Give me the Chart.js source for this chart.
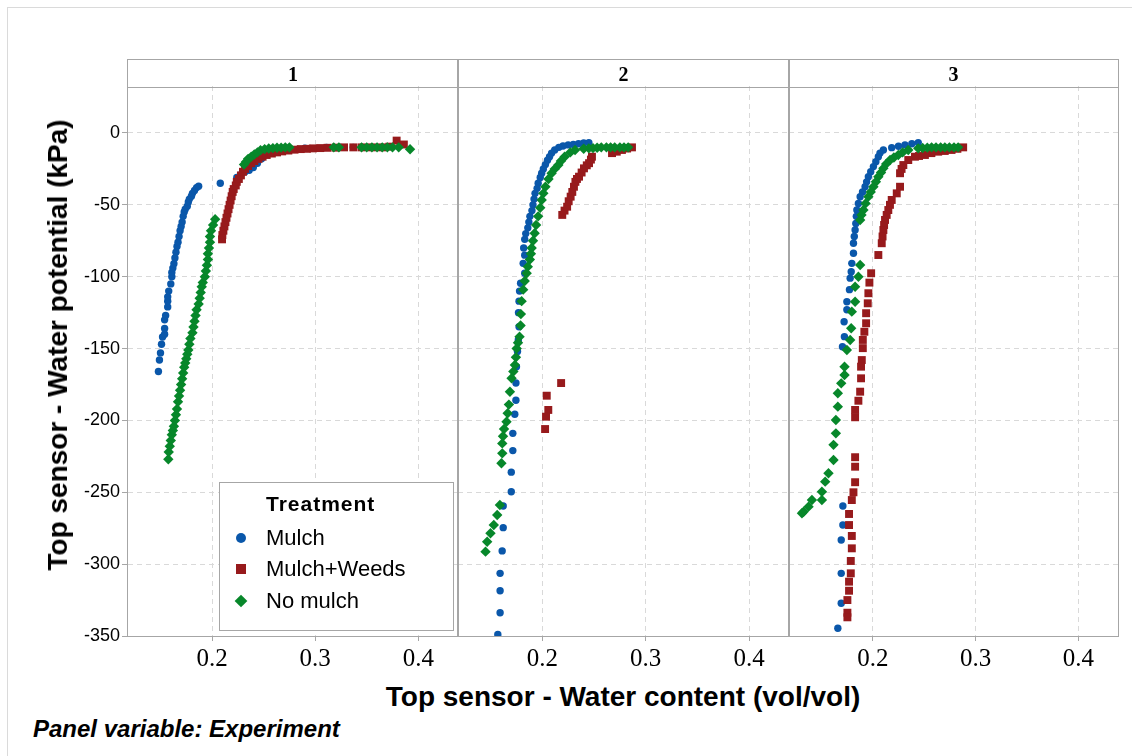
<!DOCTYPE html>
<html>
<head>
<meta charset="utf-8">
<script src="https://cdn.jsdelivr.net/npm/chart.js@4.4.0/dist/chart.umd.min.js"></script>
<style>
  body { margin: 0; background: #fff; font-family: "Liberation Sans", Arial, sans-serif; }
  #fig { position: relative; width: 1132px; height: 756px; overflow: hidden; background: #fff; }
  #outer { position: absolute; left: 7px; top: 7px; width: 1140px; height: 760px; border: 1px solid #dadada; }
  canvas { position: absolute; }
  .panel { position: absolute; top: 59px; height: 578px; border: 1.5px solid #a6a6a6; box-sizing: border-box; pointer-events: none; }
  .strip { position: absolute; left: 0; right: 0; top: 0; height: 27px; border-bottom: 1.5px solid #a6a6a6;
           font-family: "Liberation Serif", "Times New Roman", serif; font-weight: bold; font-size: 20px;
           text-align: center; line-height: 28px; color: #000; }
  #ytitle { position: absolute; left: 58px; top: 345px; transform: translate(-50%, -50%) rotate(-90deg);
            white-space: nowrap; font-weight: bold; font-size: 28px; color: #000; }
  #xtitle { position: absolute; left: 623px; top: 697px; transform: translate(-50%, -50%);
            white-space: nowrap; font-weight: bold; font-size: 28px; color: #000; }
  #note { position: absolute; left: 33px; top: 729px; transform: translateY(-50%);
          white-space: nowrap; font-weight: bold; font-style: italic; font-size: 24px; color: #000; }
  #legend { position: absolute; left: 219px; top: 482px; width: 235px; height: 149px; box-sizing: border-box;
            border: 1.5px solid #a6a6a6; background: #fff; }
  #legend .ttl { position: absolute; left: 46px; top: 21px; transform: translateY(-50%);
                 font-weight: bold; font-size: 21px; letter-spacing: 1px; }
  #legend .row { position: absolute; left: 46px; transform: translateY(-50%); font-size: 22px; white-space: nowrap; }
  #legend .mk { position: absolute; left: 21px; transform: translate(-50%, -50%); }
</style>
</head>
<body>
<div id="fig">
  <div id="outer"></div>
  <canvas id="c1" width="458" height="594" style="left:0;top:86px"></canvas>
  <canvas id="c2" width="331" height="594" style="left:458px;top:86px"></canvas>
  <canvas id="c3" width="329" height="594" style="left:789px;top:86px"></canvas>
  <div id="panels"></div>
  <div id="legend"></div>
  <div id="ytitle">Top sensor - Water potential (kPa)</div>
  <div id="xtitle">Top sensor - Water content (vol/vol)</div>
  <div id="note">Panel variable: Experiment</div>
</div>
<script>
// panel labels (Experiment) and axis settings
const panelLabels = ['1', '2', '3'];
const xTicks = [0.2, 0.3, 0.4];
const yTicks = [0, -50, -100, -150, -200, -250, -300, -350];
const treatments = ['Mulch', 'Mulch+Weeds', 'No mulch'];

// [water content, water potential]
// Experiment 1
const mulch1 = [[0.148,-166],[0.149,-158],[0.150,-153],[0.151,-147],[0.152,-142],[0.154,-140],[0.154,-136],[0.154,-130],
  [0.155,-127],[0.157,-121],[0.157,-117],[0.157,-114],[0.158,-110],[0.160,-105],[0.161,-100],[0.161,-97],[0.162,-94],
  [0.163,-91],[0.164,-87],[0.165,-83],[0.166,-79],[0.167,-76],[0.168,-72],[0.169,-68],[0.170,-65],[0.171,-62],
  [0.172,-58],[0.173,-55],[0.174,-53],[0.176,-51],[0.177,-48],[0.178,-46],[0.180,-44],[0.181,-42],[0.183,-40],
  [0.185,-38],[0.187,-37],[0.208,-35],[0.224,-31],[0.228,-29],[0.232,-27],[0.236,-26],[0.240,-24],[0.244,-21],
  [0.248,-18],[0.252,-15],[0.258,-13],[0.265,-12],[0.275,-11],[0.290,-10.5],[0.311,-10],[0.325,-10],[0.337,-10],
  [0.350,-10],[0.360,-10]];
const weeds1 = [[0.2097,-74],[0.210,-71],[0.211,-68],[0.212,-65],[0.213,-62],[0.214,-59],[0.215,-56],[0.216,-53],
  [0.217,-50],[0.218,-47],[0.219,-44],[0.220,-41],[0.221,-39],[0.223,-36.5],[0.224,-34],[0.226,-32],[0.228,-29.5],
  [0.230,-27],[0.232,-25],[0.235,-23],[0.238,-21],[0.241,-19.5],[0.245,-18],[0.249,-16.5],[0.253,-15.3],[0.258,-14.3],
  [0.263,-13.5],[0.268,-12.8],[0.274,-12.2],[0.280,-11.6],[0.286,-11.2],[0.292,-11],[0.298,-10.7],[0.305,-10.5],
  [0.312,-10.3],[0.320,-10.2],[0.328,-10],[0.337,-10],[0.345,-10],[0.355,-10],[0.365,-10],[0.372,-9.5],[0.379,-5.3],
  [0.386,-8]];
const nomulch1 = [[0.1576,-227],[0.158,-222],[0.159,-218],[0.160,-214],[0.161,-210],[0.162,-207],[0.163,-204],
  [0.164,-200],[0.165,-196],[0.166,-192],[0.167,-187],[0.168,-183],[0.169,-179],[0.170,-175],[0.171,-171],[0.172,-167],
  [0.173,-163],[0.174,-160],[0.175,-157],[0.176,-154],[0.177,-151],[0.178,-147],[0.179,-143],[0.181,-139],[0.182,-135],
  [0.183,-131],[0.184,-127],[0.185,-123],[0.187,-119],[0.188,-115],[0.189,-111],[0.190,-107],[0.191,-104],[0.193,-100],
  [0.194,-96],[0.195,-92],[0.196,-88],[0.196,-84],[0.197,-80],[0.198,-76],[0.198,-72],[0.199,-68],[0.201,-64],
  [0.203,-60],[0.231,-22],[0.233,-20],[0.235,-18],[0.238,-16.5],[0.241,-15],[0.244,-13.5],[0.247,-12],[0.251,-11.2],
  [0.255,-10.8],[0.259,-10.5],[0.263,-10.3],[0.267,-10.2],[0.271,-10],[0.275,-10],[0.318,-10],[0.323,-10],[0.345,-10],
  [0.350,-10],[0.355,-10],[0.360,-10],[0.365,-10],[0.370,-10],[0.375,-10],[0.381,-10],[0.392,-11.3]];

// Experiment 2
const mulch2 = [[0.245,-6.7],[0.240,-7],[0.235,-7.5],[0.230,-8],[0.225,-8.3],[0.220,-9],[0.216,-10],[0.212,-11.8],
  [0.209,-14],[0.207,-16.5],[0.205,-19],[0.203,-22],[0.201,-25],[0.1994,-28],[0.198,-31],[0.196,-35],[0.195,-38.5],
  [0.193,-42],[0.192,-46],[0.191,-50],[0.190,-54],[0.188,-58],[0.187,-62],[0.186,-66],[0.184,-70],[0.183,-74],
  [0.182,-80],[0.183,-85],[0.1815,-90.7],[0.183,-97.6],[0.179,-104.6],[0.178,-110],[0.1775,-117],[0.177,-125],
  [0.1775,-134.8],[0.1768,-144],[0.176,-152],[0.175,-162.6],[0.1745,-174],[0.1745,-186],[0.1734,-195.7],
  [0.1715,-209],[0.1715,-221],[0.170,-236],[0.170,-249.6],[0.1622,-259.5],[0.1622,-274.6],[0.1612,-290.8],
  [0.1592,-306.4],[0.1592,-318.5],[0.1592,-333.8],[0.157,-349]];
const weeds2 = [[0.2193,-57],[0.2215,-54],[0.224,-51.3],[0.2255,-47.5],[0.2274,-44.3],[0.229,-41],[0.2306,-37.4],
  [0.232,-34],[0.2335,-32],[0.2355,-30.4],[0.238,-27.5],[0.2403,-24.6],[0.243,-22.5],[0.2452,-21],[0.247,-18.5],
  [0.248,-16.5],[0.2674,-14],[0.272,-13],[0.277,-11.8],[0.282,-10.8],[0.2867,-10],
  [0.2182,-174],[0.2043,-182.8],[0.2058,-192.7],[0.2036,-197.4],[0.2027,-206]];
const nomulch2 = [[0.283,-10],[0.279,-10],[0.275,-10],[0.270,-10],[0.266,-10],[0.262,-10],[0.257,-10],[0.253,-10.3],
  [0.249,-10.5],[0.245,-10.7],[0.240,-11],[0.2317,-11.8],[0.227,-13.5],[0.2216,-16.5],[0.218,-19.5],[0.2155,-22.3],
  [0.212,-25],[0.209,-28],[0.206,-32],[0.203,-37.4],[0.201,-42],[0.1994,-46.6],[0.198,-52],[0.196,-58],[0.194,-64],
  [0.1926,-69.8],[0.191,-75],[0.1897,-80],[0.189,-84],[0.188,-88],[0.186,-93],[0.1849,-97.6],[0.183,-103],
  [0.1815,-109],[0.180,-117],[0.1793,-126],[0.179,-134],[0.178,-141.7],[0.1765,-146],[0.1752,-150],[0.1745,-156],
  [0.1735,-161.4],[0.172,-166],[0.1703,-170.7],[0.1687,-180],[0.1677,-189],[0.1665,-195],[0.1654,-200.9],
  [0.163,-206],[0.162,-211],[0.1613,-216],[0.1613,-222.9],[0.1605,-229.8],[0.159,-258.8],[0.1564,-265.8],
  [0.1531,-272.8],[0.1499,-278.5],[0.1467,-284.4],[0.1451,-291.3]];

// Experiment 3
const mulch3 = [[0.2442,-6.7],[0.238,-7.5],[0.2313,-8.3],[0.225,-9.2],[0.2184,-10.2],[0.2103,-11.8],[0.207,-14],
  [0.2054,-16.5],[0.203,-20],[0.2006,-23.4],[0.198,-27],[0.1957,-30.4],[0.194,-34],[0.1925,-37.4],[0.190,-41],
  [0.1877,-44.3],[0.186,-49],[0.1845,-53.6],[0.184,-58],[0.1835,-63],[0.1828,-67.5],[0.182,-72],[0.1812,-76.7],
  [0.1812,-83.7],[0.1796,-90.7],[0.179,-96.5],[0.178,-101],[0.1773,-109],[0.1748,-117.4],[0.1748,-123],
  [0.1721,-131.3],[0.1724,-141.7],[0.1705,-148.7],
  [0.1709,-259.5],[0.1709,-272.8],[0.1693,-283.2],[0.1693,-306.4],[0.1693,-327.2],[0.166,-344.6]];
const weeds3 = [[0.2879,-10],[0.2823,-11],[0.2766,-11.8],[0.270,-12.5],[0.2636,-13],[0.257,-14],[0.2507,-15.3],
  [0.245,-16],[0.241,-16.5],[0.2345,-18.8],[0.2297,-22.3],[0.228,-25],[0.2265,-28],[0.2265,-37.4],[0.2233,-42],
  [0.2184,-46.6],[0.2167,-50],[0.2151,-53.6],[0.2135,-57],[0.2119,-60.5],[0.211,-64],[0.2103,-67.5],[0.2095,-72],
  [0.2087,-76.7],[0.2054,-84.9],[0.1984,-97.6],[0.1967,-104.1],[0.1957,-111.5],[0.1951,-118.5],[0.1935,-125.4],
  [0.1935,-132.4],[0.1918,-138.3],[0.1903,-144],[0.1903,-149.7],[0.1893,-158],[0.1886,-162.6],[0.1886,-170.7],
  [0.1877,-180],[0.186,-186.3],[0.1828,-192.7],[0.1828,-197.8],[0.1828,-225.6],[0.1828,-232.2],[0.1828,-243],
  [0.1812,-250],[0.1796,-255.4],[0.1769,-265.1],[0.1769,-272.8],[0.1796,-280.4],[0.1796,-289],[0.1786,-297.8],
  [0.1786,-306.4],[0.1769,-312.2],[0.1769,-318.5],[0.1753,-325],[0.1753,-333.8],[0.1753,-337]];
const nomulch3 = [[0.283,-10],[0.279,-10],[0.2745,-10],[0.2701,-10],[0.266,-10],[0.2615,-10],[0.2572,-10],
  [0.253,-10.2],[0.2485,-10.4],[0.2442,-10.7],[0.2345,-11.8],[0.229,-13.5],[0.2248,-15.3],[0.2205,-17],
  [0.2168,-18.8],[0.213,-21.5],[0.2103,-24.6],[0.208,-27.5],[0.2054,-30.4],[0.203,-34],[0.2006,-37.4],[0.198,-41],
  [0.1957,-44.3],[0.193,-49],[0.1909,-53.6],[0.189,-57],[0.1877,-60.5],
  [0.1877,-91.8],[0.186,-100],[0.1828,-107],[0.1828,-117.4],[0.1796,-124.3],[0.179,-135.9],[0.178,-144],
  [0.1748,-151],[0.1725,-162.6],[0.1725,-168.4],[0.1693,-174.2],[0.166,-181.1],[0.166,-190.4],[0.1641,-199.7],
  [0.1641,-209],[0.1618,-217],[0.1618,-227.5],[0.1569,-236.8],[0.1537,-242.6],[0.1505,-249.6],[0.1505,-255.4],
  [0.1408,-255.4],[0.1375,-260],[0.1327,-263.5],[0.1311,-264.6]];

const colors = { mulch: '#0a57aa', weeds: '#971a1c', nomulch: '#07872a' };

const panelLeft = [128, 458, 789];
const panelRight = [458, 789, 1118];

function toPoints(arr) {
    return arr.map(p => ({ x: p[0], y: p[1] }));
}

// stop Chart.js from padding the plot area for edge tick labels
function noEdgePadding(s) {
    s.paddingTop = 0;
    s.paddingBottom = 0;
    s.paddingLeft = 0;
    s.paddingRight = 0;
}

function makeChart(id, mulch, weeds, nomulch, withYAxis) {
    const ctx = document.getElementById(id).getContext('2d');
    return new Chart(ctx, {
        type: 'scatter',
        data: {
            datasets: [
                { label: treatments[0], data: toPoints(mulch), order: 2, pointStyle: 'circle', pointRadius: 3.7,
                  backgroundColor: colors.mulch, borderColor: colors.mulch, borderWidth: 0 },
                { label: treatments[1], data: toPoints(weeds), order: 1, pointStyle: 'rect', pointRadius: 5.6,
                  backgroundColor: colors.weeds, borderColor: colors.weeds, borderWidth: 0 },
                { label: treatments[2], data: toPoints(nomulch), order: 0, pointStyle: 'rectRot', pointRadius: 5.2,
                  backgroundColor: colors.nomulch, borderColor: colors.nomulch, borderWidth: 0 }
            ]
        },
        options: {
            responsive: false,
            animation: false,
            events: [],
            layout: { padding: 0, autoPadding: false },
            plugins: { legend: { display: false }, tooltip: { enabled: false } },
            scales: {
                x: {
                    type: 'linear',
                    min: 0.1185,
                    max: 0.4385,
                    afterFit: s => { s.height = 44; noEdgePadding(s); },
                    afterBuildTicks: s => { s.ticks = xTicks.map(v => ({ value: v })); },
                    ticks: {
                        padding: 3,
                        color: '#000',
                        font: { family: '"Liberation Serif", "Times New Roman", serif', size: 25 },
                        callback: v => v.toFixed(1)
                    },
                    grid: { color: '#d9d9d9', lineWidth: 1, tickLength: 5, tickColor: '#a6a6a6', tickBorderDash: [] },
                    border: { display: false, dash: [5, 4] }
                },
                y: {
                    type: 'linear',
                    min: -350,
                    max: 32.7,
                    afterFit: s => { s.width = withYAxis ? 128 : 0; noEdgePadding(s); },
                    afterBuildTicks: s => { s.ticks = yTicks.map(v => ({ value: v })); },
                    ticks: {
                        display: withYAxis,
                        padding: 2,
                        color: '#000',
                        font: { family: '"Liberation Sans", Arial, sans-serif', size: 18 }
                    },
                    grid: { color: '#d9d9d9', lineWidth: 1, drawTicks: withYAxis, tickLength: 6,
                            tickColor: '#a6a6a6', tickBorderDash: [] },
                    border: { display: false, dash: [5, 4] }
                }
            }
        }
    });
}

makeChart('c1', mulch1, weeds1, nomulch1, true);
makeChart('c2', mulch2, weeds2, nomulch2, false);
makeChart('c3', mulch3, weeds3, nomulch3, false);

// panel frames with strip labels
const panels = document.getElementById('panels');
panelLabels.forEach((lab, i) => {
    const box = document.createElement('div');
    box.className = 'panel';
    box.style.left = (panelLeft[i] - 1) + 'px';
    box.style.width = (panelRight[i] - panelLeft[i] + 2) + 'px';
    const strip = document.createElement('div');
    strip.className = 'strip';
    strip.textContent = lab;
    box.appendChild(strip);
    panels.appendChild(box);
});

// legend
const legend = document.getElementById('legend');
const markerCss = [
    `width:10px;height:10px;border-radius:50%;background:${colors.mulch}`,
    `width:10px;height:10px;background:${colors.weeds}`,
    `width:9px;height:9px;background:${colors.nomulch};transform:translate(-50%,-50%) rotate(45deg)`
];
const rowsY = [55, 86, 118];
legend.innerHTML = '<div class="ttl">Treatment</div>' + treatments.map((t, i) =>
    `<div class="mk" style="top:${rowsY[i]}px;${markerCss[i]}"></div>` +
    `<div class="row" style="top:${rowsY[i]}px">${t}</div>`).join('');
</script>
</body>
</html>
